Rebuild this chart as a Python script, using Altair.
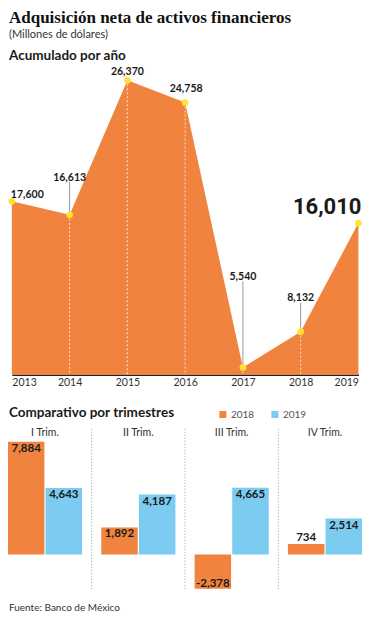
import altair as alt
import pandas as pd

# ---------------- data ----------------
TITLE = "Adquisición neta de activos financieros"
SUBTITLE = "(Millones de dólares)"
TOP_HEADING = "Acumulado por año"
BOTTOM_HEADING = "Comparativo por trimestres"
SOURCE = "Fuente: Banco de México"

YEARS = [2013, 2014, 2015, 2016, 2017, 2018, 2019]
ANNUAL = [17600, 16613, 26370, 24758, 5540, 8132, 16010]

QUARTERS = ["I Trim.", "II Trim.", "III Trim.", "IV Trim."]
SERIES = ["2018", "2019"]
Q2018 = [7884, 1892, -2378, 734]
Q2019 = [4643, 4187, 4665, 2514]

# ---------------- style / layout ----------------
ORANGE = "#F0843F"
BLUE = "#7CCBF1"
YELLOW = "#FFE234"
INK = "#1a1a1a"
GREY = "#9a9a9a"
SANS = "Lato"
BIG = "Roboto"

W, H = 354, 604


def px(r):
    return (r - 2) * (W / 366.0)


def py(r):
    return (r - 4) * (H / 610.0)


TOP_DOMAIN = [5000, 28000]
TOP_RANGE = [py(374.5), py(54.3)]
UNITS_PER_PX = (TOP_DOMAIN[1] - TOP_DOMAIN[0]) / (TOP_RANGE[0] - TOP_RANGE[1])

# per-year label placement: align, dx, dy, size, font, leader length (px)
LABEL_STYLE = {
    2013: dict(align="left", dx=-1, dy=-3, size=10.5, font=SANS, lead=0),
    2014: dict(align="center", dx=0, dy=-1, size=10.5, font=SANS, lead=33),
    2015: dict(align="center", dx=0, dy=-5, size=10.5, font=SANS, lead=0),
    2016: dict(align="center", dx=1, dy=-10, size=10.5, font=SANS, lead=0),
    2017: dict(align="center", dx=0, dy=-1, size=10.5, font=SANS, lead=86),
    2018: dict(align="center", dx=0, dy=-2, size=10.5, font=SANS, lead=29),
    2019: dict(align="right", dx=3, dy=-9, size=22, font=BIG, lead=0),
}

# ---------------- top chart: annual ----------------
df_top = pd.DataFrame({"year": YEARS, "value": ANNUAL})
df_top["label"] = [f"{v:,}" for v in ANNUAL]
df_top["lead_px"] = [LABEL_STYLE[y]["lead"] for y in YEARS]
df_top["lead_top"] = df_top["value"] + df_top["lead_px"] * UNITS_PER_PX

x_top = alt.X(
    "year:Q",
    scale=alt.Scale(domain=[YEARS[0], YEARS[-1]], range=[px(6), px(364.3)], nice=False, zero=False),
    axis=alt.Axis(
        values=YEARS, format="d", title=None, orient="bottom",
        offset=-(H - TOP_RANGE[0]), domainColor="#222", domainWidth=1.5,
        ticks=False, grid=False, labelFont=SANS, labelFontSize=10.5,
        labelColor="#333", labelPadding=3, labelFlush=True,
    ),
)
y_top = alt.Y(
    "value:Q",
    scale=alt.Scale(domain=TOP_DOMAIN, range=TOP_RANGE, nice=False, zero=False),
    axis=None,
)

base_top = alt.Chart(df_top)

area = base_top.mark_area(color=ORANGE, opacity=1).encode(
    x=x_top, y=y_top, y2=alt.datum(TOP_DOMAIN[0])
)

inner_years = YEARS[1:-1]
white_rules = base_top.mark_rule(
    color="white", strokeDash=[2, 2], strokeWidth=1, opacity=0.75
).encode(x=x_top, y=y_top, y2=alt.datum(TOP_DOMAIN[0])).transform_filter(
    alt.FieldOneOfPredicate(field="year", oneOf=inner_years)
)

leaders = base_top.mark_rule(color=GREY, strokeWidth=1).encode(
    x=x_top, y=y_top, y2=alt.Y2("lead_top:Q")
).transform_filter("datum.lead_px > 0")

points = base_top.mark_circle(size=45, color=YELLOW, opacity=1).encode(x=x_top, y=y_top)

label_layers = []
for yr in YEARS:
    st = LABEL_STYLE[yr]
    ycol = "lead_top:Q" if st["lead"] > 0 else "value:Q"
    label_layers.append(
        base_top.mark_text(
            align=st["align"], baseline="alphabetic", dx=st["dx"], dy=st["dy"],
            font=st["font"], fontSize=st["size"], fontWeight="bold", color=INK,
        ).encode(
            x=x_top,
            y=alt.Y(ycol, scale=alt.Scale(domain=TOP_DOMAIN, range=TOP_RANGE, nice=False, zero=False), axis=None),
            text="label:N",
        ).transform_filter(alt.datum.year == yr)
    )

top = alt.layer(area, white_rules, leaders, points, *label_layers)

# ---------------- bottom chart: quarters ----------------
df_q = pd.DataFrame({
    "quarter": QUARTERS * 2,
    "series": [SERIES[0]] * len(QUARTERS) + [SERIES[1]] * len(QUARTERS),
    "value": Q2018 + Q2019,
})
df_q["label"] = [f"{v:,}" for v in df_q["value"]]

q_scale = alt.Scale(domain=QUARTERS, range=[px(-8), px(378)], paddingInner=0, paddingOuter=0)
x_b = alt.X("quarter:N", scale=q_scale, axis=None)
xo_b = alt.XOffset("series:N", scale=alt.Scale(domain=SERIES, paddingInner=0.03, paddingOuter=0.255))
y_scale_b = alt.Scale(domain=[-3000, 8000], range=[py(599.4), py(440.3)], nice=False, zero=False)
y_b = alt.Y("value:Q", scale=y_scale_b, axis=None)

base_b = alt.Chart(df_q)

bars = base_b.mark_bar().encode(
    x=x_b, xOffset=xo_b, y=y_b, y2=alt.datum(0),
    color=alt.Color(
        "series:N",
        scale=alt.Scale(domain=SERIES, range=[ORANGE, BLUE]),
        legend=alt.Legend(
            title=None, orient="none", legendX=px(219), legendY=py(409.5),
            direction="horizontal", symbolType="square", symbolSize=49,
            symbolStrokeWidth=0, labelFont=SANS, labelFontSize=10,
            labelColor="#555", labelOffset=3, columnPadding=15, padding=0,
        ),
    ),
)

lbl_font = dict(font=SANS, fontSize=11.5, fontWeight="bold", color=INK)
labels_in = base_b.mark_text(baseline="top", dy=1, **lbl_font).encode(
    x=x_b, xOffset=xo_b, y=y_b, text="label:N"
).transform_filter("datum.value > 1500")
labels_small = base_b.mark_text(baseline="alphabetic", dy=-3, **lbl_font).encode(
    x=x_b, xOffset=xo_b, y=y_b, text="label:N"
).transform_filter("datum.value >= 0 && datum.value <= 1500")
labels_neg = base_b.mark_text(baseline="alphabetic", dy=-2, **lbl_font).encode(
    x=x_b, xOffset=xo_b, y=y_b, text="label:N"
).transform_filter("datum.value < 0")

df_panels = pd.DataFrame({"quarter": QUARTERS})
separators = alt.Chart(df_panels).mark_rule(
    color="#999", strokeDash=[1, 2], strokeWidth=1
).encode(
    x=alt.X("quarter:N", scale=q_scale, axis=None, bandPosition=0),
    y=alt.value(py(429)), y2=alt.value(py(591)),
).transform_filter(alt.FieldOneOfPredicate(field="quarter", oneOf=QUARTERS[1:]))

panel_titles = alt.Chart(df_panels).mark_text(
    font=SANS, fontSize=10.5, color="#333", baseline="alphabetic"
).encode(
    x=alt.X("quarter:N", scale=q_scale, axis=None, bandPosition=0.5),
    y=alt.value(py(436.7)), text="quarter:N",
)

bottom = alt.layer(separators, bars, labels_in, labels_small, labels_neg, panel_titles)

# ---------------- headings ----------------
def heading(text, x, y, size, font=SANS, weight="normal", color=INK):
    return alt.Chart(pd.DataFrame({"t": [text]})).mark_text(
        align="left", baseline="alphabetic", font=font, fontSize=size,
        fontWeight=weight, color=color,
    ).encode(x=alt.value(x), y=alt.value(y), text="t:N")


texts = [
    heading(TITLE, px(3), 15.4, 17, font="Liberation Serif", weight="bold", color="#111"),
    heading(SUBTITLE, px(3), 30.4, 11, color="#333"),
    heading(TOP_HEADING, px(3), py(56.5), 13.5, weight="bold"),
    heading(BOTTOM_HEADING, px(3), py(417.5), 13.5, weight="bold"),
    heading(SOURCE, px(3), py(612.5), 10, color="#333"),
]

chart = alt.layer(top, bottom, *texts).resolve_scale(
    x="independent", y="independent", color="independent"
).properties(
    width=W, height=H, padding=0, autosize=alt.AutoSizeParams(type="none")
).configure_view(stroke=None)

chart.save("out.html", embed_options={"renderer": "svg", "actions": False})
